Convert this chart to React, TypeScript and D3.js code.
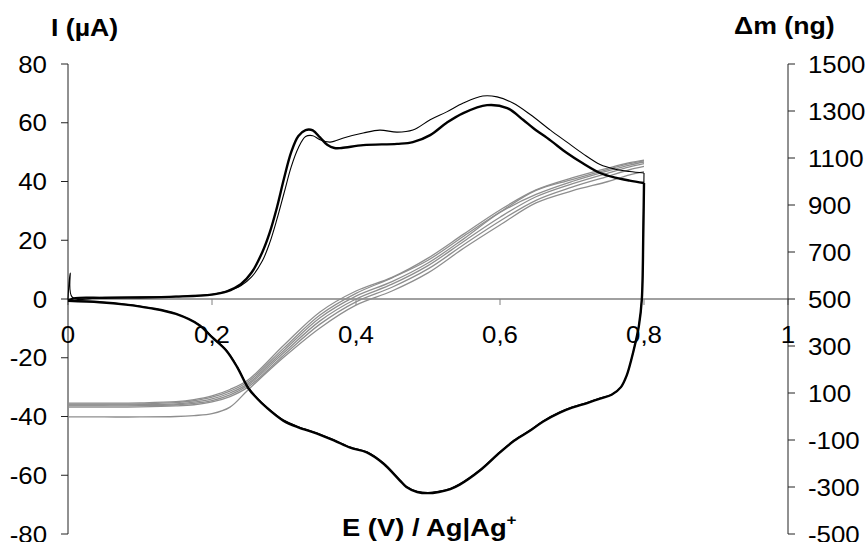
import React from "react";
import * as d3 from "d3";

// ---------- data ----------
const xTicks = [0, 0.2, 0.4, 0.6, 0.8, 1];
const xTickLabels = ["0", "0,2", "0,4", "0,6", "0,8", "1"];
const leftTicks = [-80, -60, -40, -20, 0, 20, 40, 60, 80];
const rightTicks = [-500, -300, -100, 100, 300, 500, 700, 900, 1100, 1300, 1500];

// Current, cycle 1 (thin), forward scan [E, I]
const cycle1Forward: [number, number][] = [
  [0, 0], [0.003, 8.8], [0.006, 0.6], [0.05, 0.6], [0.1, 0.7], [0.15, 0.9], [0.2, 1.6],
  [0.22, 2.6], [0.24, 4.5], [0.255, 7.5], [0.27, 13], [0.28, 19], [0.29, 27], [0.3, 36],
  [0.31, 45], [0.32, 51.5], [0.33, 55.3], [0.34, 55.6], [0.35, 54.2], [0.364, 53.4],
  [0.385, 55], [0.41, 56.5], [0.433, 57.5], [0.457, 56.8], [0.479, 57.5], [0.503, 61],
  [0.526, 63.7], [0.549, 66.7], [0.576, 69.1], [0.596, 68.8], [0.618, 66.7], [0.642, 62.8],
  [0.67, 57.5], [0.693, 53.4], [0.715, 49.5], [0.739, 45.8], [0.76, 44.2], [0.78, 43.4], [0.8, 42.9],
];

// Current, cycle 2 (thick), forward scan [E, I]
const cycle2Forward: [number, number][] = [
  [0, -0.5], [0.01, 0.3], [0.05, 0.4], [0.1, 0.5], [0.15, 0.8], [0.2, 1.5], [0.22, 2.5],
  [0.24, 5], [0.255, 9], [0.27, 16], [0.28, 22.5], [0.29, 31], [0.3, 41], [0.31, 50],
  [0.32, 55.5], [0.33, 57.5], [0.34, 57.4], [0.35, 55], [0.36, 52.5], [0.37, 51.4],
  [0.38, 51.4], [0.41, 52.4], [0.457, 52.8], [0.479, 53.4], [0.503, 55.8], [0.526, 60],
  [0.549, 63.3], [0.582, 66], [0.61, 65], [0.632, 61], [0.646, 58.2], [0.67, 54],
  [0.693, 49.7], [0.715, 46.2], [0.739, 42.9], [0.76, 41.3], [0.78, 40.3], [0.8, 39.5],
];

// Current, reverse scan (both cycles overlap) [E, I]
const cycle1Reverse: [number, number][] = [
  [0.8, 42.9], [0.799, 25], [0.797, 0], [0.793, -9], [0.788, -15], [0.782, -21],
  [0.776, -26], [0.768, -30], [0.755, -32.5], [0.739, -33.7], [0.72, -35.3], [0.7, -36.8],
  [0.683, -38.5], [0.66, -41.5], [0.642, -44.6], [0.62, -48], [0.6, -52], [0.572, -58.2],
  [0.544, -63], [0.531, -64.5], [0.515, -65.5], [0.5, -66], [0.485, -65.5], [0.47, -63.8],
  [0.461, -61.6], [0.438, -55.8], [0.415, -52], [0.392, -50.4], [0.37, -48], [0.346, -45.6],
  [0.32, -43.5], [0.299, -41.2], [0.276, -36.8], [0.262, -33.5], [0.25, -30], [0.235, -23],
  [0.22, -17.4], [0.2, -12.8], [0.183, -8.9], [0.15, -5], [0.114, -3], [0.08, -1.8],
  [0.044, -1.0], [0, -0.5],
];
const cycle2Reverse: [number, number][] = [
  [0.8, 39.5], [0.799, 22], [0.797, 0], [0.793, -9], [0.788, -15], [0.782, -21],
  [0.776, -26], [0.768, -30], [0.755, -32.6], [0.739, -33.9], [0.72, -35.5], [0.7, -37],
  [0.683, -38.7], [0.66, -41.7], [0.642, -44.8], [0.62, -48.2], [0.6, -52.2], [0.572, -58.4],
  [0.544, -63.2], [0.531, -64.7], [0.515, -65.7], [0.5, -66.1], [0.485, -65.7], [0.47, -64],
  [0.461, -61.8], [0.438, -56], [0.415, -52.2], [0.392, -50.6], [0.37, -48.2], [0.346, -45.8],
  [0.32, -43.7], [0.299, -41.4], [0.276, -37], [0.262, -33.7], [0.25, -30.2], [0.235, -23.2],
  [0.22, -17.6], [0.2, -13], [0.183, -9], [0.15, -5.1], [0.114, -3.1], [0.08, -1.9],
  [0.044, -1.1], [0, -0.6],
];

// Mass (right axis, ng) – potentials and six gray traces
const massE = [0, 0.05, 0.1, 0.15, 0.175, 0.2, 0.225, 0.25, 0.3, 0.35, 0.4, 0.45, 0.5, 0.55, 0.6, 0.65, 0.7, 0.75, 0.78, 0.8];
const mass1 = [57, 57, 58, 63, 72, 88, 115, 155, 304, 445, 534, 592, 674, 777, 879, 964, 1015, 1057, 1080, 1091];
const mass2 = [53, 53, 54, 59, 67, 82, 108, 148, 292, 432, 524, 590, 665, 768, 870, 962, 1008, 1052, 1076, 1088];
const mass3 = [49, 49, 50, 54, 61, 75, 100, 140, 282, 420, 512, 574, 653, 757, 868, 945, 1000, 1045, 1070, 1083];
const mass4 = [45, 45, 46, 50, 56, 68, 92, 133, 272, 407, 500, 563, 642, 746, 848, 935, 990, 1036, 1062, 1076];
const mass5 = [40, 40, 41, 45, 50, 62, 85, 125, 262, 393, 488, 550, 628, 732, 832, 920, 976, 1022, 1050, 1064];
const mass6 = [-2, -2, -2, 0, 4, 12, 40, 113, 253, 377, 474, 534, 611, 717, 815, 909, 960, 1000, 1028, 1042];
const massSeries = [mass1, mass2, mass3, mass4, mass5, mass6];

// ---------- layout ----------
const W = 865;
const H = 542;
const X0 = 68, X1 = 788, YT = 64, YB = 534;
const FONT = "'Liberation Sans', Arial, Helvetica, sans-serif";

const x = d3.scaleLinear().domain([0, 1]).range([X0, X1]);
const yL = d3.scaleLinear().domain([-80, 80]).range([YB, YT]);
const yR = d3.scaleLinear().domain([-500, 1500]).range([YB, YT]);

const curve = d3.curveCatmullRom.alpha(0.5);
const lineI = d3.line<[number, number]>().x(d => x(d[0])).y(d => yL(d[1])).curve(curve);
const lineM = d3.line<number>().x((_, i) => x(massE[i])).y(d => yR(d)).curve(curve);

function T(props: { x: number; y: number; anchor?: string; size: number; bold?: boolean; sx?: number; children: React.ReactNode }) {
  const { x: tx, y: ty, anchor = "start", size, bold, sx = 1.1, children } = props;
  return (
    <text
      transform={`translate(${tx},${ty}) scale(${sx},1)`}
      textAnchor={anchor}
      fontSize={size}
      fontWeight={bold ? "bold" : "normal"}
      fontFamily={FONT}
      fill="#000"
    >
      {children}
    </text>
  );
}

export default function App() {
  return (
    <svg width={W} height={H} style={{ position: "absolute", left: 0, top: 0, display: "block", background: "#fff" }}>
      <rect x={0} y={0} width={W} height={H} fill="#fff" />

      {/* zero line (x axis) */}
      <line x1={X0} x2={X1} y1={yL(0)} y2={yL(0)} stroke="#808080" strokeWidth={1.5} />
      {xTicks.map(t => (
        <line key={"xt" + t} x1={x(t)} x2={x(t)} y1={yL(0)} y2={yL(0) + 6} stroke="#808080" strokeWidth={1} />
      ))}

      {/* left axis */}
      <line x1={X0} x2={X0} y1={YT} y2={YB} stroke="#222" strokeWidth={1} />
      {leftTicks.map(t => (
        <g key={"lt" + t}>
          <line x1={X0 - 7} x2={X0} y1={yL(t)} y2={yL(t)} stroke="#222" strokeWidth={1} />
          <T x={47} y={yL(t) + 8.5} anchor="end" size={23.5}>{String(t)}</T>
        </g>
      ))}

      {/* right axis */}
      <line x1={X1} x2={X1} y1={YT} y2={YB} stroke="#222" strokeWidth={1} />
      {rightTicks.map(t => (
        <g key={"rt" + t}>
          <line x1={X1} x2={X1 + 7} y1={yR(t)} y2={yR(t)} stroke="#222" strokeWidth={1} />
          <T x={808} y={yR(t) + 8.5} anchor="start" size={23.5}>{String(t)}</T>
        </g>
      ))}

      {/* mass traces */}
      {massSeries.map((m, i) => (
        <path key={"m" + i} d={lineM(m) || ""} fill="none" stroke="#8e8e8e" strokeWidth={1.3} />
      ))}

      {/* current traces */}
      <path d={lineI(cycle1Forward) || ""} fill="none" stroke="#000" strokeWidth={1.1} />
      <path d={lineI(cycle1Reverse) || ""} fill="none" stroke="#000" strokeWidth={1.1} />
      <path d={lineI(cycle2Forward) || ""} fill="none" stroke="#000" strokeWidth={2.4} />
      <path d={lineI(cycle2Reverse) || ""} fill="none" stroke="#000" strokeWidth={2.4} />

      {/* x tick labels */}
      {xTicks.map((t, i) => (
        <T key={"xl" + t} x={x(t)} y={343} anchor="middle" size={23.5}>{xTickLabels[i]}</T>
      ))}

      {/* titles */}
      <T x={51} y={36} size={23} bold sx={1.16}>I (µA)</T>
      <T x={734} y={34} size={23} bold sx={1.16}>Δm (ng)</T>
      <text
        transform={`translate(342,536) scale(1.14,1)`}
        fontSize={24}
        fontWeight="bold"
        fontFamily={FONT}
        fill="#000"
      >
        E (V) / Ag|Ag<tspan fontSize={15} dy={-11}>+</tspan>
      </text>
    </svg>
  );
}
